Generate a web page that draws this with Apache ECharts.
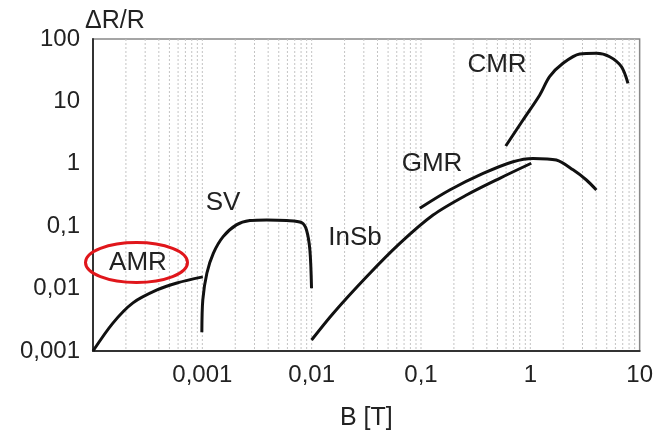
<!DOCTYPE html>
<html>
<head>
<meta charset="utf-8">
<script src="https://cdn.jsdelivr.net/npm/echarts@6/dist/echarts.min.js"></script>
<style>
  html, body { margin: 0; padding: 0; background: #fff; }
  #mrChart { width: 656px; height: 438px; }
</style>
</head>
<body>
<div id="mrChart"></div>
<script>
// magnetoresistance effects, dR/R vs B (log-log)
var amrB = [0.0001, 0.000152, 0.000232, 0.000385, 0.000586, 0.00101];
var amrR = [0.001, 0.0028, 0.0059, 0.0095, 0.0123, 0.0154];

var svB = [0.00099, 0.00101, 0.0011, 0.00126, 0.00155, 0.00205, 0.00272, 0.00388, 0.0059, 0.0081, 0.00897, 0.00964, 0.00997];
var svR = [0.002, 0.0066, 0.0176, 0.0367, 0.068, 0.105, 0.123, 0.126, 0.123, 0.114, 0.087, 0.041, 0.0101];

var insbB = [0.00998, 0.0157, 0.0318, 0.064, 0.129, 0.261, 0.525, 1.02];
var insbR = [0.0015, 0.004, 0.0155, 0.053, 0.151, 0.316, 0.586, 1.02];

var gmrB = [0.0975, 0.183, 0.37, 0.695, 1.06, 1.73, 2.46, 3.26, 4.02];
var gmrR = [0.194, 0.38, 0.7, 1.08, 1.22, 1.15, 0.8, 0.55, 0.38];

var cmrB = [0.596, 0.857, 1.22, 1.5, 1.99, 2.83, 4.02, 5.32, 6.81, 7.82];
var cmrR = [1.93, 5.03, 12.7, 24.9, 40.8, 57.5, 59, 52, 36, 19.5];

// log grid lines 1..9 in every decade
var gridDecades = [0.0001, 0.001, 0.01, 0.1, 1];
var gridSteps = [1, 2, 3, 4, 5, 6, 7, 8, 9];

function pairs(xs, ys) {
    var out = [];
    for (var i = 0; i < xs.length; i++) {
        out.push([xs[i], ys[i]]);
    }
    return out;
}

function fmtNum(v) {
    return String(+v.toPrecision(4)).replace('.', ',');
}

var gridVals = [];
for (var d = 0; d < gridDecades.length; d++) {
    for (var s = 0; s < gridSteps.length; s++) {
        if (d == 0 && s == 0) continue; // left border already there
        gridVals.push([+(gridDecades[d] * gridSteps[s]).toPrecision(3), 1]);
    }
}

var txtColor = '#222';
var fontFam = 'Liberation Sans, Arial, sans-serif';

function curve(name, xs, ys) {
    return {
        name: name,
        type: 'line',
        data: pairs(xs, ys),
        showSymbol: false,
        smooth: 0.3,
        z: 3,
        lineStyle: { color: '#111', width: 3 },
        animation: false
    };
}

function labelTxt(txt, x, y) {
    return {
        type: 'text', x: x, y: y, z: 50,
        style: { text: txt, fontSize: 26, fill: txtColor, fontFamily: fontFam, align: 'center', verticalAlign: 'middle' }
    };
}

var chart = echarts.init(document.getElementById('mrChart'));
chart.setOption({
    backgroundColor: '#fff',
    animation: false,
    grid: {
        left: 93, right: 16, top: 39, bottom: 87,
        show: true, borderColor: '#888', borderWidth: 1.5
    },
    xAxis: {
        type: 'log',
        logBase: 10,
        min: 0.0001,
        max: 10,
        name: 'B [T]',
        nameLocation: 'middle',
        nameGap: 55,
        nameTextStyle: { fontSize: 25, color: txtColor, fontFamily: fontFam },
        axisLine: { lineStyle: { color: '#333', width: 2 } },
        axisTick: { show: false },
        splitLine: { show: false },
        axisLabel: {
            fontSize: 24, color: txtColor, fontFamily: fontFam, margin: 12,
            formatter: function (v) {
                if (v < 0.0005) return '';
                return fmtNum(v);
            }
        }
    },
    yAxis: {
        type: 'log',
        logBase: 10,
        min: 0.001,
        max: 100,
        axisLine: { lineStyle: { color: '#333', width: 2 } },
        axisTick: { show: false },
        splitLine: { show: false },
        axisLabel: {
            fontSize: 24, color: txtColor, fontFamily: fontFam, margin: 13,
            formatter: function (v) { return fmtNum(v); }
        }
    },
    graphic: [
        { type: 'text', left: 85, top: 9, style: { text: 'ΔR/R', fontSize: 25, fill: txtColor, fontFamily: fontFam } },
        labelTxt('SV', 223, 203),
        labelTxt('AMR', 138, 263),
        labelTxt('InSb', 355, 238),
        labelTxt('GMR', 432, 164),
        labelTxt('CMR', 497, 65),
        // red ring round AMR
        { type: 'ellipse', shape: { cx: 136.5, cy: 262.5, rx: 51, ry: 20 }, style: { fill: 'none', stroke: '#e0161b', lineWidth: 3 }, z: 100 }
    ],
    series: [
        {
            // vertical grid, drawn through the x scale
            name: 'grid',
            type: 'custom',
            silent: true,
            z: 1,
            data: gridVals,
            renderItem: function (params, api) {
                var pt = api.coord([api.value(0), api.value(1)]);
                var cs = params.coordSys;
                return {
                    type: 'line',
                    shape: { x1: pt[0], y1: cs.y, x2: pt[0], y2: cs.y + cs.height },
                    style: { stroke: '#c4c4c4', lineWidth: 1, lineDash: [2, 2] }
                };
            }
        },
        curve('AMR', amrB, amrR),
        curve('SV', svB, svR),
        curve('InSb', insbB, insbR),
        curve('GMR', gmrB, gmrR),
        curve('CMR', cmrB, cmrR)
    ]
});
</script>
</body>
</html>
